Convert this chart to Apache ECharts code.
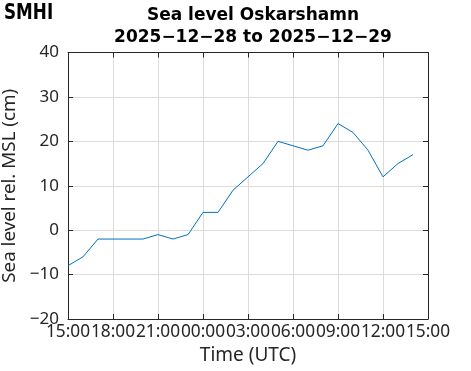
<!DOCTYPE html>
<html><head><meta charset="utf-8">
<script src="https://cdn.jsdelivr.net/npm/echarts@6/dist/echarts.min.js"></script>
<style>html,body{margin:0;padding:0;background:#fff}#c{width:471px;height:371px}</style>
</head><body><div id="c"></div>
<script>
// Hours since 2025-12-28 15:00 UTC
const hours = [0,1,2,3,4,5,6,7,8,9,10,11,12,13,14,15,16,17,18,19,20,21,22,23];
const seaLevel = [-8,-6,-2,-2,-2,-2,-1,-2,-1,4,4,9,12,15,20,19,18,19,24,22,18,12,15,17];
const xTickLabels = ['15:00','18:00','21:00','00:00','03:00','06:00','09:00','12:00','15:00'];
const yTicks = [-20,-10,0,10,20,30,40];

const font = 'Noto Sans';
const txt = '#262626';
const chart = echarts.init(document.getElementById('c'), null, {renderer:'canvas'});
const common = () => ({
  axisLine:{show:true, onZero:false, lineStyle:{color:txt, width:1}},
  axisTick:{show:true, inside:true, length:5, lineStyle:{color:txt}},
});
chart.setOption({
  animation:false,
  title:{
    text:'Sea level Oskarshamn\n2025\u221212\u221228 to 2025\u221212\u221229',
    left:248, textAlign:'center', top:0,
    textStyle:{fontFamily:'DejaVu Sans', fontWeight:'bold', fontSize:17, lineHeight:22, color:'#000'}
  },
  graphic:[{type:'text', left:4, top:3, scaleX:0.8,
    style:{text:'SMHI', font:'bold 21px "DejaVu Sans"', fill:'#000'}}],
  grid:{left:68, right:43, top:52.5, bottom:52, containLabel:false, outerBoundsMode:'none'},
  xAxis:[
    Object.assign({type:'value', position:'bottom', min:0, max:24, interval:3,
      axisLabel:{color:txt, fontFamily:font, fontSize:17.3, margin:5,
        showMinLabel:true, showMaxLabel:true, hideOverlap:false,
        formatter:v=>xTickLabels[v/3]},
      splitLine:{show:true, lineStyle:{color:'#dcdcdc', width:1}},
      name:'Time (UTC)', nameLocation:'middle', nameGap:27,
      nameTextStyle:{color:txt, fontFamily:font, fontSize:19}}, common()),
    Object.assign({type:'value', position:'top', min:0, max:24, interval:3,
      axisLabel:{show:false}, splitLine:{show:false}}, common())
  ],
  yAxis:[
    Object.assign({type:'value', position:'left', min:yTicks[0], max:yTicks[yTicks.length-1], interval:10,
      axisLabel:{color:txt, fontFamily:font, fontSize:17, margin:9,
        showMinLabel:true, showMaxLabel:true,
        formatter:v=>String(v).replace('-','\u2212')},
      splitLine:{show:true, lineStyle:{color:'#dcdcdc', width:1}},
      name:'Sea level rel. MSL (cm)', nameLocation:'middle', nameGap:41,
      nameTextStyle:{color:txt, fontFamily:font, fontSize:18.8}}, common()),
    Object.assign({type:'value', position:'right', min:-20, max:40, interval:10,
      axisLabel:{show:false}, splitLine:{show:false}}, common())
  ],
  series:[{type:'line', xAxisIndex:0, yAxisIndex:0, showSymbol:false,
    data:hours.map((h,i)=>[h, seaLevel[i]]),
    lineStyle:{color:'#0072BD', width:1}}]
});
</script></body></html>
